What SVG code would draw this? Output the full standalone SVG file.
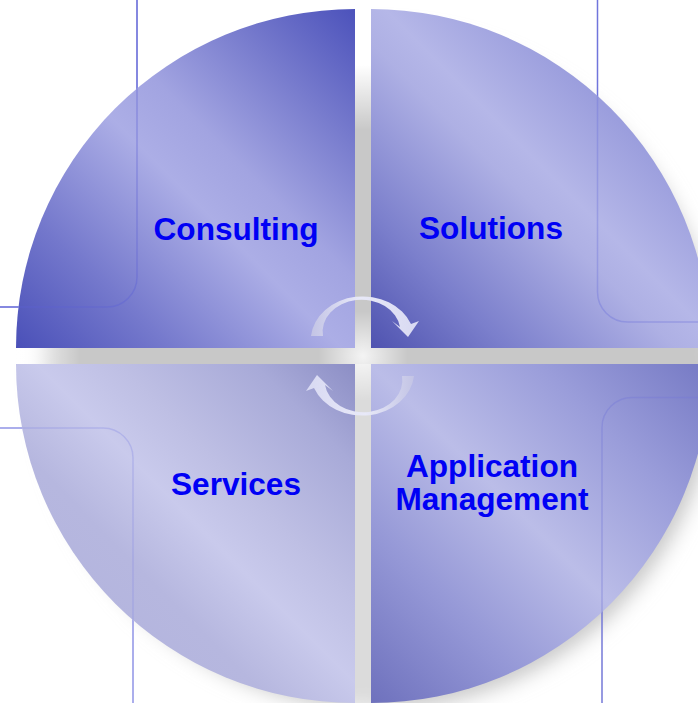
<svg xmlns="http://www.w3.org/2000/svg" width="698" height="703" viewBox="0 0 698 703">
<style>
.lbl{font-family:"Liberation Sans",Arial,Helvetica,sans-serif;font-weight:bold;font-size:31.6px;fill:#0000f5;text-anchor:middle}
.deco{fill:none;stroke-width:1.5}
.arrow{fill:url(#arrowGrad)}
</style>
<defs>
<filter id="blur" x="-20%" y="-20%" width="140%" height="140%"><feGaussianBlur stdDeviation="10"/></filter>
<linearGradient id="gTL" gradientUnits="userSpaceOnUse" x1="16" y1="348" x2="355" y2="9">
<stop offset="0" stop-color="#4a50b8"/><stop offset="0.22" stop-color="#7478cc"/><stop offset="0.48" stop-color="#acaee6"/><stop offset="0.6" stop-color="#a2a4e1"/><stop offset="0.8" stop-color="#777bcd"/><stop offset="1" stop-color="#4c52bb"/>
</linearGradient>
<linearGradient id="gTR" gradientUnits="userSpaceOnUse" x1="371" y1="348" x2="710" y2="9">
<stop offset="0" stop-color="#4f53b0"/><stop offset="0.2" stop-color="#7b7fcc"/><stop offset="0.45" stop-color="#aeb0e4"/><stop offset="0.52" stop-color="#b5b7e8"/><stop offset="0.7" stop-color="#9b9edd"/><stop offset="1" stop-color="#8f92d8"/>
</linearGradient>
<linearGradient id="gBL" gradientUnits="userSpaceOnUse" x1="16" y1="703" x2="355" y2="364">
<stop offset="0" stop-color="#b0b1dc"/><stop offset="0.38" stop-color="#b6b7df"/><stop offset="0.53" stop-color="#c9caec"/><stop offset="0.65" stop-color="#bebfe4"/><stop offset="0.85" stop-color="#a8aad8"/><stop offset="1" stop-color="#8c8ec5"/>
</linearGradient>
<linearGradient id="gBR" gradientUnits="userSpaceOnUse" x1="371" y1="703" x2="710" y2="364">
<stop offset="0" stop-color="#6e71bd"/><stop offset="0.25" stop-color="#9497d6"/><stop offset="0.5" stop-color="#bbbde8"/><stop offset="0.75" stop-color="#9a9dda"/><stop offset="1" stop-color="#7579c4"/>
</linearGradient>
<linearGradient id="fadeTop" x1="0" y1="0" x2="0" y2="1">
<stop offset="0" stop-color="#fff" stop-opacity="1"/><stop offset="0.5" stop-color="#fff" stop-opacity="1"/><stop offset="1" stop-color="#fff" stop-opacity="0"/>
</linearGradient>
<linearGradient id="fadeLeft" x1="0" y1="0" x2="1" y2="0">
<stop offset="0" stop-color="#fff" stop-opacity="1"/><stop offset="0.3" stop-color="#fff" stop-opacity="0.9"/><stop offset="1" stop-color="#fff" stop-opacity="0"/>
</linearGradient>
<radialGradient id="hilite" cx="0.5" cy="0.5" r="0.5">
<stop offset="0" stop-color="#fff" stop-opacity="0.8"/><stop offset="1" stop-color="#fff" stop-opacity="0"/>
</radialGradient>
<linearGradient id="arrowGrad" x1="0" y1="0" x2="1" y2="0">
<stop offset="0" stop-color="#c3c4e5"/><stop offset="0.45" stop-color="#e8e9f8"/><stop offset="1" stop-color="#d8d9f2"/>
</linearGradient>
<mask id="lineMask" maskUnits="userSpaceOnUse" x="0" y="0" width="698" height="703">
<rect width="698" height="703" fill="#fff"/>
<path d="M355 348 L16 348 A339 339 0 0 1 355 9 Z M371 348 L371 9 A339 339 0 0 1 710 348 Z M355 364 L355 703 A339 339 0 0 1 16 364 Z M371 364 L710 364 A339 339 0 0 1 371 703 Z" fill="#666"/>
</mask>
</defs>
<rect width="698" height="703" fill="#fff"/>
<g id="backdrop">
<circle cx="377" cy="370" r="339" fill="#c8c8c8" filter="url(#blur)"/>
<rect x="355" y="0" width="16" height="130" fill="url(#fadeTop)"/>
<rect x="0" y="348" width="80" height="16" fill="url(#fadeLeft)"/>
<rect x="355" y="364" width="16" height="339" fill="#fff" opacity="0.35"/>
<circle cx="363" cy="356" r="45" fill="url(#hilite)"/>
</g>
<g id="node-consulting">
<path d="M355 348 L16 348 A339 339 0 0 1 355 9 Z" fill="url(#gTL)"/>
<text class="lbl" x="236" y="240">Consulting</text>
</g>
<g id="node-solutions">
<path d="M371 348 L371 9 A339 339 0 0 1 710 348 Z" fill="url(#gTR)"/>
<text class="lbl" x="491" y="239">Solutions</text>
</g>
<g id="node-services">
<path d="M355 364 L355 703 A339 339 0 0 1 16 364 Z" fill="url(#gBL)"/>
<text class="lbl" x="236" y="495">Services</text>
</g>
<g id="node-application-management">
<path d="M371 364 L710 364 A339 339 0 0 1 371 703 Z" fill="url(#gBR)"/>
<text class="lbl" x="492" y="477">Application</text>
<text class="lbl" x="492" y="510">Management</text>
</g>
<g id="frame-lines" mask="url(#lineMask)">
<path class="deco" stroke="#5d62d6" d="M137 0 V277 A30 30 0 0 1 107 307 H0"/>
<path class="deco" stroke="#7075dc" d="M597.5 0 V292 A30 30 0 0 0 627.5 322 H698"/>
<path class="deco" stroke="#9094e6" d="M0 428 H103 A30 30 0 0 1 133 458 V703"/>
<path class="deco" stroke="#7579d8" d="M698 397.5 H632 A30 30 0 0 0 602 427.5 V703"/>
</g>
<g id="connectors">
<path class="arrow" d="M311 336 A52 44 0 0 1 411 324 L419 321 L408 337 L392 321 L400 327 A38 31 0 0 0 323 336 Z"/>
<path class="arrow" transform="rotate(180 362.5 356)" d="M311 336 A52 44 0 0 1 411 324 L419 321 L408 337 L392 321 L400 327 A38 31 0 0 0 323 336 Z"/>
</g>
</svg>
